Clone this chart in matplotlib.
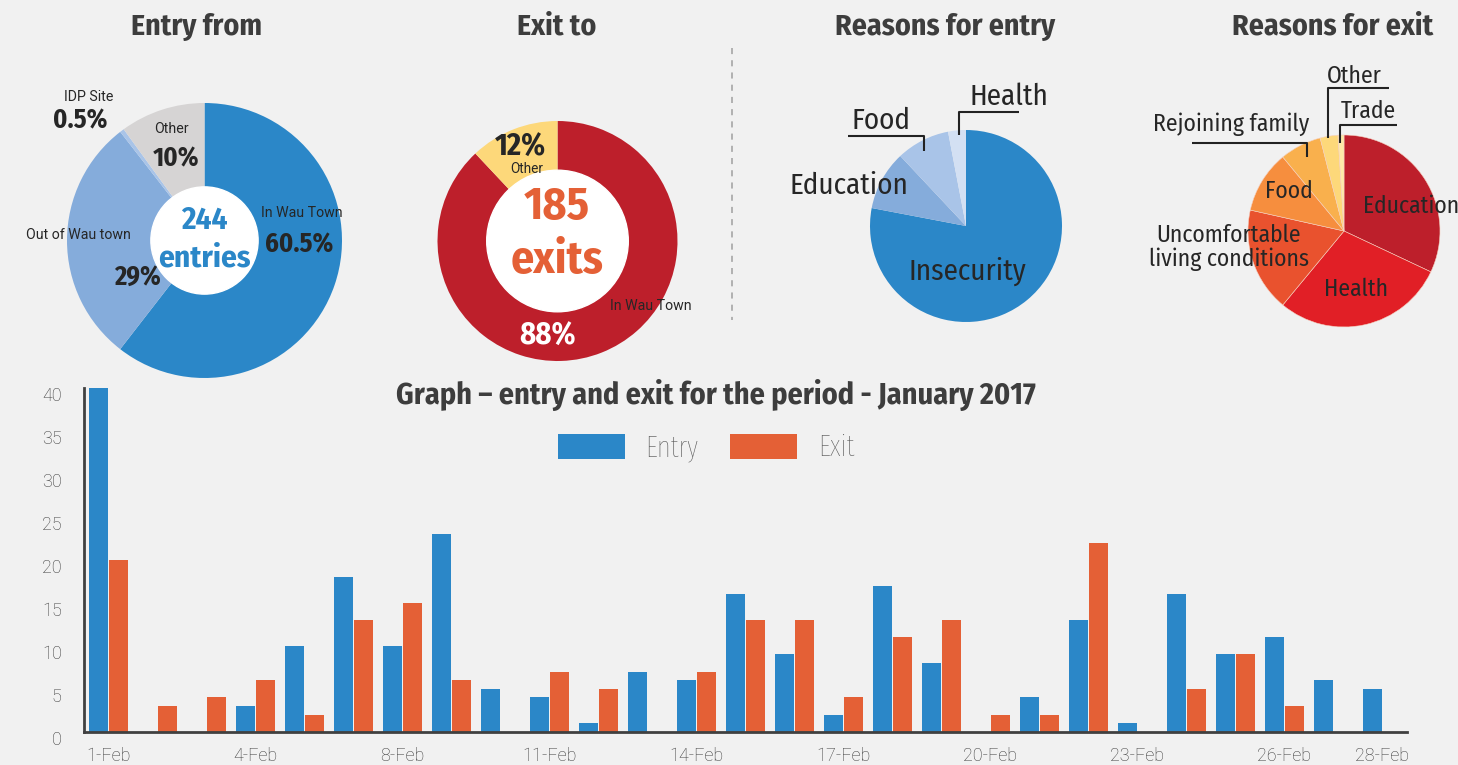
import numpy as np
import matplotlib
matplotlib.use('Agg')
import matplotlib.pyplot as plt
from matplotlib.patches import Circle
from matplotlib.transforms import ScaledTranslation

# ---- data ----
days = ['1-Feb', '2-Feb', '3-Feb', '4-Feb', '5-Feb', '6-Feb', '8-Feb', '9-Feb', '10-Feb',
        '11-Feb', '12-Feb', '13-Feb', '14-Feb', '15-Feb', '16-Feb', '17-Feb', '18-Feb', '19-Feb',
        '20-Feb', '21-Feb', '22-Feb', '23-Feb', '24-Feb', '25-Feb', '26-Feb', '27-Feb', '28-Feb']
entry = [40, 0, 0, 3, 10, 18, 10, 23, 5, 4, 1, 7, 6, 16, 9, 2, 17, 8, 0, 4, 13, 1, 16, 9, 11, 6, 5]
exits = [20, 3, 4, 6, 2, 13, 15, 6, 0, 7, 5, 0, 7, 13, 13, 4, 11, 13, 2, 2, 22, 0, 5, 9, 3, 0, 0]
shown_days = ['1-Feb', '4-Feb', '8-Feb', '11-Feb', '14-Feb', '17-Feb', '20-Feb', '23-Feb', '26-Feb', '28-Feb']

entry_from = ['In Wau Town', 'Out of Wau town', 'IDP Site', 'Other']
entry_from_pct = [60.5, 29, 0.5, 10]
exit_to = ['In Wau Town', 'Other']
exit_to_pct = [88, 12]
entry_reasons = ['Insecurity', 'Education', 'Food', 'Health']
entry_reasons_pct = [78, 10, 9, 3]
exit_reasons = ['Education', 'Health', 'Uncomfortable\nliving conditions', 'Food',
                'Rejoining family', 'Other', 'Trade']
exit_reasons_pct = [32, 29, 17.5, 10.5, 7, 3, 1]

BLUE = '#2b87c8'
ORANGE = '#e46036'
BG = '#f1f1f1'
TITLE_C = '#3d3d3d'
TXT = '#262626'
COND = ['Fira Sans Condensed', 'Barlow Condensed', 'Roboto', 'DejaVu Sans']
XCOND = ['Fira Sans Extra Condensed', 'Fira Sans Condensed', 'Roboto', 'DejaVu Sans']
LIGHT = ['Roboto', 'DejaVu Sans']

W, H = 1458, 765
fig = plt.figure(figsize=(W / 100, H / 100), dpi=100, facecolor=BG)


def fx(x):
    return x / W


def fy(y):
    return 1 - y / H


def pie_ax(cx, cy, r):
    a = fig.add_axes([(cx - r) / W, 1 - (cy + r) / H, 2 * r / W, 2 * r / H])
    a.set_facecolor('none')
    return a


def txt(x, y, s, size, weight='normal', color=TXT, family=LIGHT, **kw):
    fig.text(fx(x), fy(y), s, fontsize=size, fontweight=weight, color=color,
             family=family, ha=kw.pop('ha', 'center'), va=kw.pop('va', 'center'), **kw)


# ---- titles ----
for x, t in [(197, 'Entry from'), (557, 'Exit to'), (945, 'Reasons for entry'), (1333, 'Reasons for exit')]:
    txt(x, 27, t, 21.5, 'bold', TITLE_C, COND)

# ---- pie 1: entry from ----
a1 = pie_ax(204.5, 240.5, 137.5)
a1.pie(entry_from_pct, colors=[BLUE, '#85acdb', '#a9c4e8', '#d6d4d4'], startangle=90,
       counterclock=False, radius=1, wedgeprops=dict(linewidth=0))
a1.add_patch(Circle((0, 0), 0.39, color='white', zorder=5))
a1.set_xlim(-1, 1); a1.set_ylim(-1, 1)
txt(204.5, 221, '244', 22.5, 'bold', BLUE, COND)
txt(204.5, 258, 'entries', 22.5, 'bold', BLUE, COND)
txt(302, 213, entry_from[0], 10.2)
txt(299, 245, '%g%%' % entry_from_pct[0], 19, 'bold', TXT, COND)
txt(78, 235, entry_from[1], 10.2)
txt(137, 277, '%g%%' % entry_from_pct[1], 19, 'bold', TXT, COND)
txt(89, 97, entry_from[2], 10.2)
txt(80, 121, '%g%%' % entry_from_pct[2], 19, 'bold', TXT, COND)
txt(171, 129, entry_from[3], 10.2)
txt(176, 159, '%g%%' % entry_from_pct[3], 19, 'bold', TXT, COND)

# ---- pie 2: exit to ----
a2 = pie_ax(557.5, 241, 120)
a2.pie(exit_to_pct, colors=['#bd1f2b', '#fdd87a'], startangle=90, counterclock=False,
       radius=1, wedgeprops=dict(linewidth=0))
a2.add_patch(Circle((0, 0), 0.59, color='white', zorder=5))
a2.set_xlim(-1, 1); a2.set_ylim(-1, 1)
txt(557, 207, '185', 33, 'bold', ORANGE, COND)
txt(557, 261, 'exits', 33, 'bold', ORANGE, COND)
txt(651, 306, exit_to[0], 10.2)
txt(548, 337, '%g%%' % exit_to_pct[0], 22, 'bold', 'white', COND)
txt(520, 148, '%g%%' % exit_to_pct[1], 22, 'bold', TXT, COND)
txt(527, 169, exit_to[1], 9.8)

# ---- pie 3: reasons for entry ----
a3 = pie_ax(966, 226, 96)
a3.pie(entry_reasons_pct, colors=[BLUE, '#85acdb', '#a9c4e8', '#d3e0f3'], startangle=90,
       counterclock=False, radius=1, wedgeprops=dict(linewidth=0))
a3.set_xlim(-1, 1); a3.set_ylim(-1, 1)
txt(967, 271, entry_reasons[0], 21, family=COND)
txt(849, 186, entry_reasons[1], 21, family=COND)
txt(881, 121, entry_reasons[2], 21, family=COND)
txt(1009, 97, entry_reasons[3], 21, family=COND)

# ---- pie 4: reasons for exit ----
a4 = pie_ax(1344, 231, 96)
a4.pie(exit_reasons_pct, colors=['#bd1f2b', '#e11f26', '#e9522e', '#f68e3e', '#f9b04d', '#fdd87a', '#fee9a8'],
       startangle=90, counterclock=False, radius=1, wedgeprops=dict(linewidth=0.4, edgecolor='#f6d0c0'))
a4.set_xlim(-1, 1); a4.set_ylim(-1, 1)
txt(1363, 206, exit_reasons[0], 17, family=COND, ha='left')
txt(1356, 289, exit_reasons[1], 17, family=COND)
txt(1229, 247, exit_reasons[2], 17, family=COND, linespacing=1.05)
txt(1289, 191, exit_reasons[3], 17, family=COND)
txt(1231, 124, exit_reasons[4], 17, family=COND)
txt(1354, 76, exit_reasons[5], 17, family=COND)
txt(1368, 111, exit_reasons[6], 17, family=COND)

# ---- overlay for leader lines / separator ----
ov = fig.add_axes([0, 0, 1, 1], zorder=10)
ov.set_xlim(0, W); ov.set_ylim(H, 0); ov.axis('off'); ov.set_facecolor('none')
lk = dict(color='#222222', lw=1.5, solid_capstyle='butt')
ov.plot([847.6, 924.5, 924.5], [136, 136, 150.7], **lk)
ov.plot([958.9, 958.9, 1019.3], [135, 111.7, 111.7], **lk)
ov.plot([1192.4, 1306.8, 1306.8], [142.7, 142.7, 156.7], **lk)
ov.plot([1328.4, 1328.4, 1389.3], [138.3, 88.3, 88.3], **lk)
ov.plot([1339.8, 1339.8, 1397], [143.3, 125, 125], **lk)
ov.plot([732, 732], [48, 320], color='#a0a0a0', lw=1.1, dashes=(4, 4))

# ---- bar chart ----
ax = fig.add_axes([fx(84), fy(731.7), (1407 - 84) / W, 344 / H])
ax.set_facecolor('none')
x = np.arange(len(days))
bw = 0.37
ax.bar(x - 0.205, entry, bw, color=BLUE, label='Entry')
ax.bar(x + 0.205, exits, bw, color=ORANGE, label='Exit')
ax.set_xlim(-0.5, len(days) - 0.5)
ax.set_ylim(0, 40)
ax.set_yticks(range(0, 41, 5))
tick_pos = [days.index(d) for d in shown_days]
ax.set_xticks(tick_pos)
ax.set_xticklabels(shown_days)
for s in ['top', 'right']:
    ax.spines[s].set_visible(False)
for s in ['left', 'bottom']:
    ax.spines[s].set_color('#404040')
    ax.spines[s].set_linewidth(2)
ax.tick_params(length=0, labelsize=13, labelcolor='#3a3a3a')
ax.tick_params(axis='y', pad=16)
ax.tick_params(axis='x', pad=11)
for lab in ax.get_xticklabels() + ax.get_yticklabels():
    lab.set_family(LIGHT)
    lab.set_fontweight('light')
for lab in ax.get_yticklabels():
    lab.set_transform(lab.get_transform() + ScaledTranslation(0, -0.06, fig.dpi_scale_trans))

txt(716, 395, 'Graph \u2013 entry and exit for the period - January 2017', 21.7, 'bold', TITLE_C, COND)
leg = ax.legend(loc='center', bbox_to_anchor=(fx(706), fy(448)), bbox_transform=fig.transFigure,
                ncol=2, frameon=False, handlelength=2.3, handleheight=0.95, handletextpad=0.7,
                columnspacing=1.1, prop=dict(family=XCOND, size=21, weight='light'))
for t in leg.get_texts():
    t.set_color('#555555')

fig.savefig('out.png', dpi=100, facecolor=BG)
